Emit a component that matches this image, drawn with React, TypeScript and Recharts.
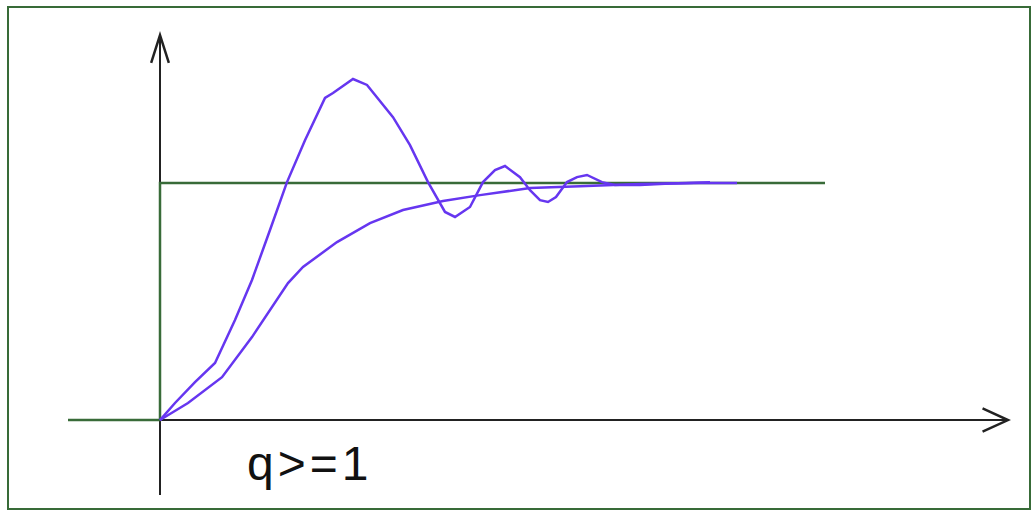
import React from 'react';
import { LineChart, Line, XAxis, YAxis, ReferenceLine } from 'recharts';

// oscillating response (q < 1)
const oscT = [0, 0.15, 0.35, 0.55, 0.75, 0.92, 1.1, 1.27, 1.45, 1.65, 1.73, 1.93, 2.07, 2.33, 2.5, 2.68, 2.85, 2.95, 3.1, 3.23, 3.35, 3.45, 3.6, 3.7, 3.8, 3.88, 3.96, 4.07, 4.17, 4.27, 4.42, 4.55, 4.8, 5.1, 5.5];
const oscY = [0, 0.072, 0.16, 0.241, 0.422, 0.591, 0.802, 1.004, 1.181, 1.359, 1.38, 1.439, 1.414, 1.278, 1.16, 1.004, 0.878, 0.857, 0.899, 1.004, 1.055, 1.072, 1.025, 0.97, 0.928, 0.92, 0.941, 1.004, 1.025, 1.034, 1.004, 0.992, 0.992, 0.998, 1.003];

// damped response (q >= 1)
const dampT = [0, 0.28, 0.62, 0.92, 1.28, 1.43, 1.77, 2.1, 2.43, 2.83, 3.2, 3.7, 4.2, 4.8, 5.4, 5.77];
const dampY = [0, 0.072, 0.181, 0.35, 0.578, 0.646, 0.751, 0.831, 0.886, 0.924, 0.949, 0.979, 0.987, 0.996, 1.0, 1.0];

// unit step input
const stepT = [-0.92, 0, 0, 6.65];
const stepY = [0, 0, 1, 1];

const xDomain = [-1, 8.5];
const yDomain = [-0.35, 1.65];
const xAxisEnd = 8.48;
const yAxisBottom = -0.316;
const yAxisTop = 1.624;
const caption = 'q>=1';

const toRows = (ts: number[], ys: number[]) => ts.map((t, i) => ({ t, y: ys[i] }));
const oscData = toRows(oscT, oscY);
const dampData = toRows(dampT, dampY);
const stepData = toRows(stepT, stepY);

const BLUE = '#6636f0';
const GREEN = '#386b38';
const AXIS = '#222';

const arrow = (len: number, spread: number) => (props: any) => {
  const { x1, y1, x2, y2 } = props;
  const a = Math.atan2(y2 - y1, x2 - x1);
  const b1x = x2 - len * Math.cos(a - spread);
  const b1y = y2 - len * Math.sin(a - spread);
  const b2x = x2 - len * Math.cos(a + spread);
  const b2y = y2 - len * Math.sin(a + spread);
  return (
    <g>
      <line x1={x1} y1={y1} x2={x2} y2={y2} stroke={AXIS} strokeWidth={2} />
      <path d={`M${b1x},${b1y}L${x2},${y2}L${b2x},${b2y}`} fill="none" stroke={AXIS} strokeWidth={2.5} />
    </g>
  );
};

const plain = (props: any) => {
  const { x1, y1, x2, y2 } = props;
  return <line x1={x1} y1={y1} x2={x2} y2={y2} stroke={AXIS} strokeWidth={2} />;
};

export default function App() {
  return (
    <div style={{ position: 'relative', width: 1033, height: 511, background: '#fff' }}>
      <style>{'body{margin:0}'}</style>
      <div
        style={{
          position: 'absolute', left: 7, top: 6, width: 1020, height: 500,
          border: `2px solid ${GREEN}`, boxSizing: 'content-box',
        }}
      />
      <LineChart width={1033} height={511} margin={{ top: 29, right: 23, bottom: 8, left: 60 }}>
        <XAxis type="number" dataKey="t" domain={xDomain} hide allowDataOverflow />
        <YAxis type="number" dataKey="y" domain={yDomain} hide allowDataOverflow />
        <ReferenceLine segment={[{ x: 0, y: 0 }, { x: xAxisEnd, y: 0 }]} shape={arrow(28, 0.43)} />
        <ReferenceLine segment={[{ x: 0, y: yAxisBottom }, { x: 0, y: 0 }]} shape={plain} />
        <ReferenceLine segment={[{ x: 0, y: 1 }, { x: 0, y: yAxisTop }]} shape={arrow(29, 0.31)} />
        <Line data={stepData} dataKey="y" type="linear" stroke={GREEN} strokeWidth={2.5} dot={false} isAnimationActive={false} />
        <Line data={dampData} dataKey="y" type="linear" stroke={BLUE} strokeWidth={2.5} dot={false} isAnimationActive={false} />
        <Line data={oscData} dataKey="y" type="linear" stroke={BLUE} strokeWidth={2.5} dot={false} isAnimationActive={false} />
      </LineChart>
      <div
        style={{
          position: 'absolute', left: 247, top: 436, fontFamily: 'Liberation Sans, Arial, sans-serif',
          fontSize: 48, lineHeight: '56px', color: '#111', letterSpacing: 4,
        }}
      >
        {caption}
      </div>
    </div>
  );
}
